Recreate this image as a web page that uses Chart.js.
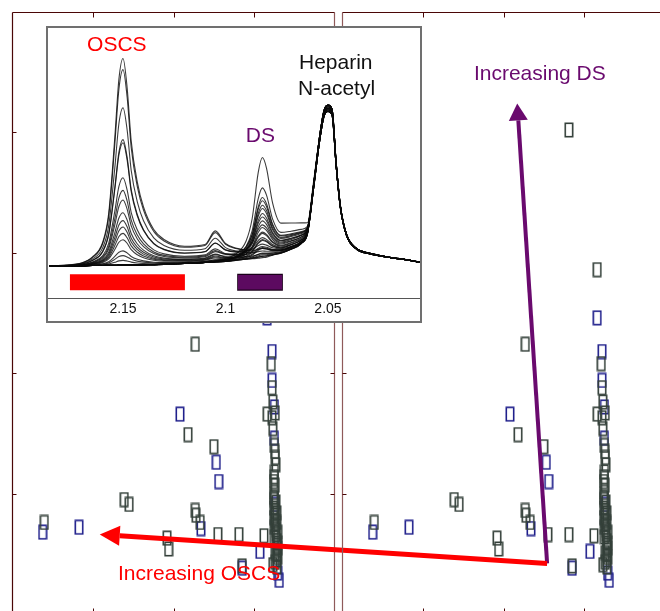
<!DOCTYPE html>
<html>
<head>
<meta charset="utf-8">
<script src="https://cdn.jsdelivr.net/npm/chart.js@4.4.1/dist/chart.umd.min.js"></script>
<style>
    html, body { margin: 0; padding: 0; background: #fff; }
    body { width: 660px; height: 611px; position: relative; overflow: hidden; }
    .layer { position: absolute; left: 0; top: 0; }
    #insetBox {
        position: absolute; left: 46px; top: 26px; width: 376px; height: 297px;
        border: 2px solid #707070; box-sizing: border-box; background: #fff;
    }
    #insetBox canvas { display: block; }
</style>
</head>
<body>
<canvas id="leftPanel" class="layer" width="700" height="630"></canvas>
<canvas id="rightPanel" class="layer" width="700" height="630"></canvas>
<div id="insetBox"><canvas id="inset" width="372" height="293"></canvas></div>
<script>
/* ---------- Score plot data (same scores in both panels) ---------- */

const xTicks = [1, 2, 3];
const yTicks = [1, 2, 3, 4];

const darkScores = [
    [2.27, 2.24], [2.18, 1.49], [2.50, 1.39], [1.39, 0.95], [1.45, 0.91], [0.40, 0.76],
    [2.27, 0.86], [2.28, 0.82], [2.33, 0.76], [2.55, 0.66], [2.81, 0.66], [3.12, 0.65],
    [1.92, 0.63], [1.94, 0.54], [2.85, 0.40], [2.81, 4.02], [3.16, 2.86],
    [3.21, 2.08], [3.22, 1.88], [3.23, 1.76], [3.16, 1.66], [3.26, 1.67], [3.22, 1.63],
    [3.23, 1.54], [3.25, 1.40], [3.26, 1.35], [3.26, 1.30], [3.25, 1.18], [3.25, 1.14],
    [3.26, 1.07], [3.25, 1.01], [3.25, 0.95], [3.26, 0.86], [3.26, 0.82], [3.26, 0.78],
    [3.26, 0.74], [3.27, 0.70], [3.27, 0.66], [3.28, 0.61], [3.28, 0.57], [3.29, 0.55],
    [3.28, 0.53], [3.28, 0.49], [3.28, 0.45], [3.23, 0.41], [3.28, 0.39],
    [3.24, 0.97], [3.27, 0.93], [3.24, 0.88], [3.28, 0.84], [3.24, 0.80], [3.28, 0.76],
    [3.25, 0.72], [3.29, 0.68], [3.25, 0.64], [3.29, 0.59], [3.26, 0.51], [3.29, 0.47],
    [3.26, 0.43], [3.27, 1.24], [3.24, 1.10]
];

const blueScores = [
    [2.08, 1.66], [2.53, 1.26], [2.56, 1.10], [0.38, 0.68], [0.83, 0.72], [2.34, 0.71],
    [3.07, 0.52], [3.16, 2.46], [2.85, 0.38], [3.22, 2.18], [3.22, 1.94], [3.25, 1.72],
    [3.25, 1.46], [3.26, 0.91], [3.29, 0.34], [3.31, 0.28]
];

// annotation arrows, in right-panel score units
const arrowStart = [2.54, 0.42];
const oscsArrowTip = [-3.0, 0.66];
const dsArrowTip = [2.17, 4.24];

/* ---------- Inset 1H NMR data ---------- */

const ppm = [
    2.186, 2.18, 2.17, 2.165, 2.16, 2.157, 2.154, 2.152, 2.15, 2.148, 2.146, 2.143,
    2.14, 2.135, 2.13, 2.12, 2.11, 2.105, 2.1, 2.095, 2.09, 2.087, 2.084, 2.082,
    2.08, 2.077, 2.073, 2.068, 2.063, 2.06, 2.057, 2.054, 2.052, 2.05, 2.048, 2.046,
    2.044, 2.041, 2.036, 2.03, 2.02, 2.01, 2.005
];

const heparinBase = [
    0, 0, 0.3, 0.6, 0.6, 0.7, 0.7, 0.8, 0.8, 0.8, 0.9, 0.9,
    1.0, 1.1, 1.3, 1.9, 2.5, 2.8, 3.1, 3.8, 4.4, 4.7, 5.0, 5.4,
    5.7, 6.9, 8.2, 10.7, 14.5, 20.8, 50, 81, 96, 99.5, 97, 64,
    38, 20, 11, 8.2, 5.7, 3.8, 2.5
];

const oscsProfile = [
    0, 0.005, 0.015, 0.04, 0.11, 0.25, 0.62, 0.9, 1.0, 0.86, 0.6, 0.4,
    0.28, 0.17, 0.12, 0.083, 0.087, 0.15, 0.087, 0.058, 0.04, 0.03, 0.025, 0.022,
    0.02, 0.015, 0.01, 0.005, 0, 0, 0, 0, 0, 0, 0, 0,
    0, 0, 0, 0, 0, 0, 0
];

const dsProfile = [
    0, 0, 0, 0, 0, 0, 0, 0, 0, 0, 0, 0,
    0, 0, 0, 0, 0, 0.01, 0.03, 0.06, 0.18, 0.4, 0.86, 1.0,
    0.89, 0.52, 0.3, 0.26, 0.2, 0.1, 0.04, 0, 0, 0, 0, 0,
    0, 0, 0, 0, 0, 0, 0
];

// per-sample peak heights
const oscsHeight = [130, 123, 99, 79, 77, 55, 47, 41, 33, 28, 24, 20, 16, 9, 6, 3, 0, 0, 0, 0, 0, 0, 0, 0, 0, 0, 0, 0];
const dsHeight = [3, 6, 2, 11, 19, 6, 15, 35, 2, 25, 11, 15, 6, 1, 23, 31, 2, 63, 44, 38, 33, 28, 19, 11, 6, 3, 1, 0];
const heparinScale = [1.0, 0.98, 1.02, 0.99, 1.01, 0.98, 1.02, 1.0, 0.98, 1.02, 1.0, 0.99, 1.01, 0.98,
    1.02, 1.0, 0.98, 1.02, 1.0, 0.99, 1.01, 0.98, 1.02, 1.0, 0.99, 1.01, 0.98, 1.02];

const insetTicks = [2.15, 2.1, 2.05];
const oscsBand = [2.1759, 2.1198];
const dsBand = [2.0939, 2.0724];

const insetLabels = [
    { text: "OSCS", x: 2.153, y: 139, color: "#ff0000" },
    { text: "DS", x: 2.083, y: 82, color: "#6a0a6e" },
    { text: "Heparin", x: 2.0462, y: 128, color: "#111" },
    { text: "N-acetyl", x: 2.0458, y: 111.5, color: "#111" }
];

const FONT = "'Liberation Sans', Arial, sans-serif";

/* ---------- Helpers ---------- */

function makeMarker(color) {

    const c = document.createElement("canvas");
    c.width = 10;
    c.height = 16;

    const g = c.getContext("2d");
    g.strokeStyle = color;
    g.lineWidth = 1.6;
    g.strokeRect(1.3, 1.3, 7.4, 13.4);

    return c;

}

function toPoints(pairs) {

    return pairs.map(([x, y]) => ({ x, y }));

}

function drawArrow(ctx, sx, sy, tx, ty, color, width, headLen, headHalf) {

    const ang = Math.atan2(ty - sy, tx - sx);
    const bx = tx - headLen * Math.cos(ang);
    const by = ty - headLen * Math.sin(ang);
    const nx = -Math.sin(ang), ny = Math.cos(ang);

    ctx.save();
    ctx.strokeStyle = color;
    ctx.fillStyle = color;
    ctx.lineWidth = width;
    ctx.lineCap = "butt";
    ctx.beginPath();
    ctx.moveTo(sx, sy);
    ctx.lineTo(bx, by);
    ctx.stroke();

    ctx.beginPath();
    ctx.moveTo(tx, ty);
    ctx.lineTo(bx + nx * headHalf, by + ny * headHalf);
    ctx.lineTo(bx - nx * headHalf, by - ny * headHalf);
    ctx.closePath();
    ctx.fill();
    ctx.restore();

}

/* ---------- Plugins ---------- */

const framePlugin = {

    id: "frame",

    afterDraw(chart, args, opts) {

        const { ctx, chartArea: a, scales: { x, y } } = chart;
        const L = Math.round(a.left) + 0.5, R = Math.round(a.right) - 0.5;
        const T = Math.round(a.top) + 0.5, B = Math.round(a.bottom) - 0.5;

        ctx.save();
        ctx.lineWidth = 1.2;

        ctx.strokeStyle = opts.leftColor;
        ctx.beginPath(); ctx.moveTo(L, T); ctx.lineTo(L, B); ctx.stroke();
        ctx.strokeStyle = opts.rightColor;
        ctx.beginPath(); ctx.moveTo(R, T); ctx.lineTo(R, B); ctx.stroke();
        ctx.strokeStyle = opts.color;
        ctx.beginPath(); ctx.moveTo(L, T); ctx.lineTo(R, T); ctx.moveTo(L, B); ctx.lineTo(R, B); ctx.stroke();

        ctx.lineWidth = 1;
        ctx.beginPath();
        xTicks.forEach(v => {
            const px = Math.round(x.getPixelForValue(v)) + 0.5;
            ctx.moveTo(px, T); ctx.lineTo(px, T + 5);
            ctx.moveTo(px, B); ctx.lineTo(px, B - 5);
        });
        yTicks.forEach(v => {
            const py = Math.round(y.getPixelForValue(v)) + 0.5;
            ctx.moveTo(L, py); ctx.lineTo(L + 4, py);
            ctx.moveTo(R, py); ctx.lineTo(R - 4, py);
        });
        ctx.stroke();
        ctx.restore();

    }

};

const arrowPlugin = {

    id: "arrows",

    afterDatasetsDraw(chart) {

        const { ctx, scales: { x, y } } = chart;
        const sx = x.getPixelForValue(arrowStart[0]);
        const sy = y.getPixelForValue(arrowStart[1]);

        drawArrow(ctx, sx, sy, x.getPixelForValue(dsArrowTip[0]), y.getPixelForValue(dsArrowTip[1]),
            "#6a0a6e", 4, 17, 9.5);
        drawArrow(ctx, sx, sy, x.getPixelForValue(oscsArrowTip[0]), y.getPixelForValue(oscsArrowTip[1]),
            "#ff0000", 5, 20, 10);

        ctx.save();
        ctx.font = "21px " + FONT;
        ctx.textAlign = "center";
        ctx.textBaseline = "middle";
        ctx.fillStyle = "#6a0a6e";
        ctx.fillText("Increasing DS", x.getPixelForValue(2.45), y.getPixelForValue(4.48));
        ctx.fillStyle = "#ff0000";
        ctx.fillText("Increasing OSCS", x.getPixelForValue(-1.77), y.getPixelForValue(0.33));
        ctx.restore();

    }

};

const insetLabelPlugin = {

    id: "insetLabels",

    afterDatasetsDraw(chart) {

        const { ctx, scales: { x, y } } = chart;

        ctx.save();
        ctx.font = "21px " + FONT;
        ctx.textAlign = "center";
        ctx.textBaseline = "middle";
        insetLabels.forEach(l => {
            ctx.fillStyle = l.color;
            ctx.fillText(l.text, x.getPixelForValue(l.x), y.getPixelForValue(l.y));
        });
        ctx.restore();

    }

};

/* ---------- Score panels ---------- */

const darkMarker = makeMarker("#34403a");
const blueMarker = makeMarker("#20208c");

function scoreChart(id, padding, frameOpts, extraPlugins) {

    return new Chart(document.getElementById(id), {
        type: "scatter",
        data: {
            datasets: [
                { data: toPoints(darkScores), pointStyle: darkMarker },
                { data: toPoints(blueScores), pointStyle: blueMarker }
            ]
        },
        options: {
            responsive: false,
            animation: false,
            events: [],
            layout: { padding },
            plugins: { legend: { display: false }, tooltip: { enabled: false }, frame: frameOpts },
            scales: {
                x: { type: "linear", min: 0, max: 4, display: false },
                y: { type: "linear", min: 0, max: 5, display: false }
            }
        },
        plugins: [framePlugin, ...extraPlugins]
    });

}

scoreChart("leftPanel", { left: 12, top: 12, right: 365, bottom: 16 },
    { color: "#4a0606", leftColor: "#4a0606", rightColor: "#8f5a5a" }, []);

scoreChart("rightPanel", { left: 342, top: 12, right: 35, bottom: 16 },
    { color: "#4a0606", leftColor: "#8f5a5a", rightColor: "#4a0606" }, [arrowPlugin]);

/* ---------- Inset spectra ---------- */

const traceSets = oscsHeight.map((h, k) => ({
    data: ppm.map((p, i) => ({
        x: p,
        y: heparinBase[i] * heparinScale[k] + h * oscsProfile[i] + dsHeight[k] * dsProfile[i]
    })),
    borderColor: "rgba(10,10,10,0.8)",
    borderWidth: 1.1,
    cubicInterpolationMode: "monotone"
}));

// Chart.js paints later datasets first, so the purple fill comes before its dark outline
const bandSets = [
    { data: [{ x: oscsBand[0], y: -10 }, { x: oscsBand[1], y: -10 }], borderColor: "#ff0000", borderWidth: 16 },
    { data: [{ x: dsBand[0], y: -10 }, { x: dsBand[1], y: -10 }], borderColor: "#5c0a60", borderWidth: 14.5 },
    { data: [{ x: dsBand[0] + 0.0004, y: -10 }, { x: dsBand[1] - 0.0004, y: -10 }], borderColor: "#1a001a", borderWidth: 17 }
].map(d => ({ ...d, borderCapStyle: "butt" }));

new Chart(document.getElementById("inset"), {
    type: "line",
    data: { datasets: [...traceSets, ...bandSets] },
    options: {
        responsive: false,
        animation: false,
        events: [],
        elements: { point: { radius: 0 } },
        plugins: { legend: { display: false }, tooltip: { enabled: false } },
        scales: {
            x: {
                type: "linear",
                reverse: true,
                min: 2.0051,
                max: 2.1866,
                grid: { display: false, drawTicks: false },
                border: { display: true, dash: [1, 2], color: "#555", width: 1 },
                afterBuildTicks: s => { s.ticks = insetTicks.map(v => ({ value: v })); },
                ticks: {
                    padding: 3,
                    color: "#111",
                    font: { family: FONT, size: 14 },
                    callback: v => String(v)
                }
            },
            y: { display: false, min: -20, max: 150 }
        }
    },
    plugins: [insetLabelPlugin]
});
</script>
</body>
</html>
